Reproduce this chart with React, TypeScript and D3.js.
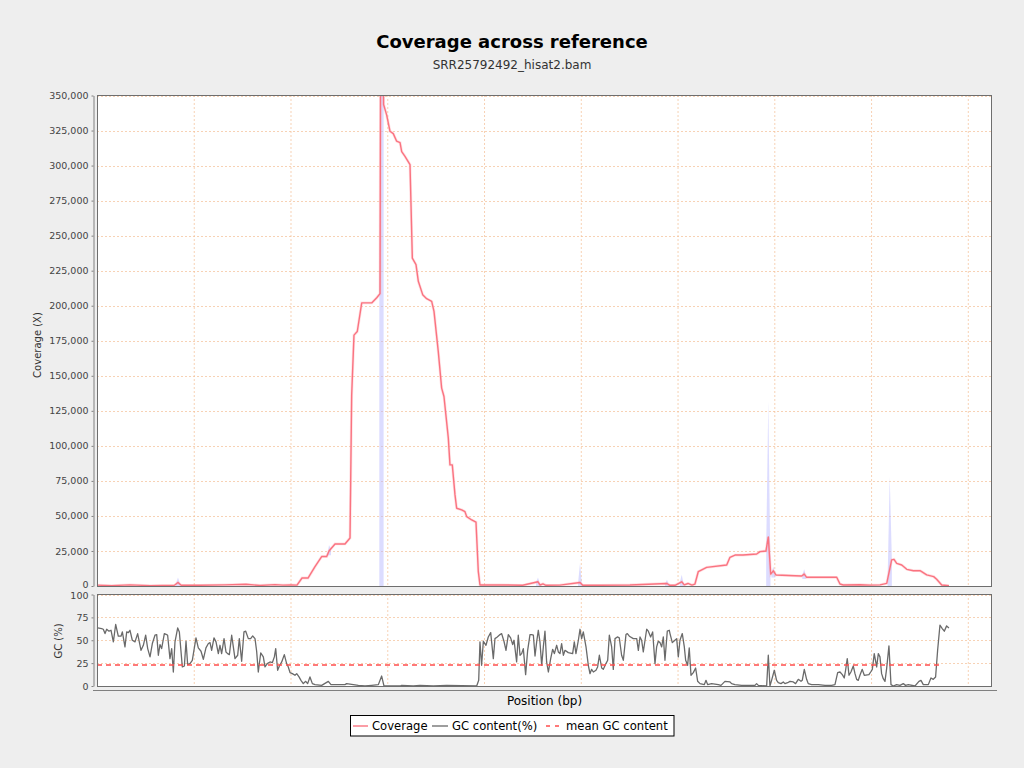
import React, { useEffect, useRef } from 'react';
import * as d3 from 'd3';

// coverage (bp position, depth)
const covPos = [0, 150, 340, 550, 800, 837, 870, 1065, 1323, 1540, 1685, 1840, 1922, 2005, 2067, 2119, 2181, 2201, 2253, 2322, 2374, 2398, 2460, 2563, 2615, 2632, 2656, 2690, 2736, 2839, 2891, 2925, 2932, 2955, 2962, 2994, 3028, 3062, 3097, 3132, 3149, 3183, 3235, 3259, 3297, 3321, 3366, 3407, 3459, 3483, 3527, 3562, 3586, 3631, 3648, 3672, 3700, 3717, 3769, 3803, 3821, 3873, 3917, 3941, 3958, 4165, 4400, 4558, 4580, 4609, 4640, 4785, 4992, 5020, 5199, 5508, 5891, 5920, 5974, 6043, 6070, 6108, 6149, 6180, 6214, 6301, 6508, 6542, 6594, 6676, 6818, 6852, 6914, 6938, 6963, 6990, 7017, 7283, 7309, 7335, 7645, 7679, 7713, 7886, 7990, 8093, 8162, 8213, 8237, 8265, 8317, 8369, 8437, 8506, 8523, 8575, 8647, 8678, 8730, 8805];
const covVal = [600, 300, 800, 300, 500, 2500, 500, 500, 800, 1200, 400, 1000, 600, 800, 600, 5700, 5700, 7900, 13800, 21000, 21000, 25000, 30000, 30000, 34300, 136000, 179000, 181600, 202000, 202000, 205700, 208600, 420000, 420000, 343600, 336000, 324500, 322800, 317400, 316400, 310000, 306600, 300700, 234000, 229300, 217400, 207900, 205000, 203100, 196000, 167400, 141200, 135200, 105500, 86400, 86400, 65000, 55500, 54300, 53000, 49500, 47100, 45500, 10200, 700, 800, 500, 3000, 700, 1500, 500, 600, 2500, 500, 500, 700, 1800, 500, 500, 3000, 800, 1800, 600, 1400, 10200, 13300, 15000, 20500, 22100, 22100, 22800, 24500, 25000, 35000, 8500, 10800, 7900, 7100, 8500, 6200, 6200, 1400, 700, 900, 600, 800, 1900, 18600, 19000, 16200, 15000, 11900, 10900, 10900, 10200, 7900, 6700, 4800, 700, 200];

// min/max spread spikes around the coverage line
const spikePos = [837, 2398, 2940, 4558, 4992, 5891, 6043, 6938, 6990, 7309, 8193];
const spikeLo = [0, 22000, 0, 0, 0, 0, 0, 0, 6000, 5000, 0];
const spikeHi = [6000, 29000, 420000, 6000, 16000, 4500, 8000, 132000, 14000, 12000, 78000];
const spikeHalf = [25, 20, 22, 20, 20, 20, 20, 22, 20, 20, 22];

// GC content (%)
const gcPos = [7, 48, 65, 83, 100, 124, 145, 169, 193, 220, 248, 262, 289, 307, 324, 341, 365, 393, 420, 455, 479, 503, 524, 548, 572, 599, 617, 634, 651, 668, 696, 720, 730, 754, 772, 789, 806, 834, 851, 882, 903, 920, 937, 961, 985, 1023, 1047, 1075, 1099, 1126, 1151, 1168, 1185, 1209, 1230, 1254, 1271, 1288, 1313, 1333, 1350, 1368, 1392, 1409, 1426, 1454, 1471, 1495, 1519, 1537, 1564, 1588, 1609, 1633, 1650, 1667, 1692, 1719, 1736, 1760, 1788, 1812, 1833, 1847, 1867, 1885, 1909, 1936, 1960, 1977, 1995, 2019, 2046, 2064, 2088, 2108, 2132, 2157, 2177, 2201, 2226, 2253, 2322, 2391, 2418, 2563, 2580, 2701, 2770, 2839, 2908, 2942, 2966, 3131, 3149, 3269, 3338, 3476, 3614, 3924, 3945, 3958, 3975, 3993, 4020, 4044, 4069, 4096, 4113, 4137, 4165, 4182, 4206, 4227, 4251, 4275, 4296, 4310, 4337, 4354, 4372, 4389, 4406, 4430, 4451, 4475, 4492, 4510, 4527, 4544, 4561, 4578, 4596, 4613, 4630, 4647, 4665, 4689, 4709, 4727, 4751, 4768, 4785, 4802, 4820, 4837, 4871, 4916, 4933, 4950, 4975, 4992, 5009, 5026, 5054, 5078, 5095, 5112, 5130, 5157, 5174, 5192, 5216, 5233, 5260, 5278, 5295, 5319, 5336, 5354, 5378, 5398, 5422, 5440, 5467, 5481, 5502, 5543, 5578, 5595, 5612, 5629, 5646, 5664, 5681, 5698, 5722, 5743, 5767, 5784, 5801, 5819, 5836, 5853, 5870, 5894, 5915, 5922, 5946, 5973, 5991, 6008, 6025, 6049, 6070, 6084, 6104, 6121, 6139, 6163, 6187, 6208, 6232, 6277, 6294, 6311, 6352, 6421, 6449, 6490, 6542, 6559, 6593, 6662, 6800, 6817, 6835, 6921, 6938, 6955, 6972, 7000, 7024, 7041, 7069, 7093, 7110, 7138, 7162, 7196, 7220, 7248, 7276, 7289, 7310, 7334, 7351, 7386, 7455, 7524, 7593, 7627, 7655, 7679, 7703, 7723, 7737, 7754, 7772, 7792, 7816, 7834, 7851, 7868, 7885, 7909, 7930, 7978, 7996, 8013, 8033, 8058, 8075, 8092, 8109, 8126, 8144, 8161, 8185, 8206, 8230, 8264, 8299, 8333, 8357, 8385, 8454, 8495, 8516, 8540, 8592, 8619, 8643, 8667, 8688, 8712, 8736, 8757, 8781, 8805];
const gcVal = [63.5, 62.8, 62.0, 57.3, 62.0, 59.9, 60.9, 48.2, 67.2, 54.4, 54.4, 59.1, 42.7, 59.1, 58.4, 60.9, 50, 48.2, 57.3, 39, 44.5, 55.5, 40.9, 31.8, 46.4, 55.5, 56.2, 33.6, 45.3, 40.9, 57.3, 56.2, 55.5, 29.9, 40.9, 15.3, 48.2, 63.5, 59.1, 20.8, 21.9, 48.9, 23.4, 24.5, 28.1, 52.6, 41.6, 38, 29.2, 41.6, 46.4, 47.4, 39, 52.6, 48.2, 35.4, 44.5, 35.4, 51.8, 37.2, 35.4, 34.3, 55.5, 42.7, 29.9, 33.6, 51.8, 27, 59.1, 59.9, 51.8, 51.8, 54.7, 51.8, 38, 15.3, 36.1, 31.8, 20.8, 24.5, 26.3, 25.5, 31.8, 40.9, 17.2, 21.9, 26.3, 34.3, 24.5, 20.8, 14.6, 13.5, 11.7, 13.5, 9.9, 6.2, 2.6, 5.1, 2.6, 9.9, 2.6, 1.5, 0.7, 5.1, 1.5, 1.5, 2.6, 0.7, 0, 0.7, 1.5, 10.9, 0, 0, 0.7, 0, 0.7, 0, 0.7, 0, 6.2, 48.2, 22.6, 48.9, 44.5, 53.6, 58.4, 29.9, 51.8, 53.6, 56.2, 57.3, 48.9, 39, 56.2, 52.6, 45.3, 50, 26.3, 55.5, 33.6, 35.4, 40.9, 12.4, 39, 56.2, 56.2, 55.5, 32.8, 48.2, 60.9, 48.2, 22.6, 42.7, 59.9, 26.3, 15.3, 29.9, 40.1, 35.4, 44.5, 37.2, 35.4, 46.4, 33.6, 39, 36.5, 35.4, 48.2, 35.4, 50, 62, 51.8, 59.1, 42.7, 22.6, 13.5, 18.2, 15.3, 17.2, 20.8, 33.6, 19.7, 18.2, 24.5, 28.1, 55.5, 42.7, 18.2, 51.8, 53.6, 52.6, 33.6, 28.1, 56.2, 57.3, 54.4, 51.8, 51.8, 39, 53.6, 50, 37.2, 50, 62, 59.9, 53.6, 59.1, 24.5, 42.7, 48.9, 47.4, 42.7, 53.6, 28.1, 59.9, 60.9, 57.3, 47.4, 50, 51.8, 31.8, 50, 57.3, 42.7, 28.1, 22.6, 41.6, 11.7, 14.6, 19.7, 5.1, 2.6, 1.5, 6.2, 1.5, 2.6, 1.5, 0.7, 5.1, 4.4, 2.6, 1.5, 0.7, 0.7, 2.6, 0.7, 0, 33.6, 0, 6.2, 17.2, 6.2, 3.6, 2.6, 4.4, 2.6, 3.6, 5.1, 4.4, 2.6, 7.3, 5.1, 6.2, 18.2, 7.3, 2.6, 1.5, 1.5, 0.7, 0.7, 1.5, 14.6, 15.3, 12.4, 8.8, 17.2, 29.9, 11.7, 15.3, 21.9, 13.5, 7.3, 6.2, 11.7, 18.2, 11.7, 12.4, 15.3, 18.2, 35.4, 20.8, 35.4, 31.8, 13.5, 8, 5.1, 19, 43.8, 1.5, 0, 1.5, 0.7, 2.6, 0.7, 1.5, 0, 5.1, 6.2, 1.5, 1.5, 8.8, 7.3, 9.9, 39, 66.4, 62.8, 59.9, 65.7, 63.5];

const meanGC = 23;
const meanGCEnd = 8720;

const covTicks = [0, 25000, 50000, 75000, 100000, 125000, 150000, 175000, 200000, 225000, 250000, 275000, 300000, 325000, 350000];
const gcTicks = [0, 25, 50, 75, 100];
const posGrid = [0, 1000, 2000, 3000, 4000, 5000, 6000, 7000, 8000, 9000];

const FONT = 'DejaVu Sans, Verdana, sans-serif';

const App: React.FC = () => {
  const svgRef = useRef<SVGSVGElement>(null);

  useEffect(() => {
    if (!svgRef.current) return;
    const svg = d3.select(svgRef.current);
    svg.selectAll('*').remove();

    const left = 97, right = 992, top = 95, covBottom = 586, gcTop = 594, gcBottom = 686;

    const x = d3.scaleLinear().domain([0, 9250]).range([left, right]);
    const yCov = d3.scaleLinear().domain([0, 350000]).range([covBottom, top + 0.5]);
    const yGC = d3.scaleLinear().domain([0, 100]).range([gcBottom, gcTop + 0.5]);

    svg.append('rect').attr('width', 1024).attr('height', 768).attr('fill', '#eeeeee');

    // Titles
    svg.append('text').attr('x', 512).attr('y', 48).attr('text-anchor', 'middle')
      .attr('font-family', FONT).attr('font-size', 18).attr('font-weight', 'bold').attr('fill', '#000')
      .text('Coverage across reference');
    svg.append('text').attr('x', 512).attr('y', 69).attr('text-anchor', 'middle')
      .attr('font-family', FONT).attr('font-size', 12).attr('fill', '#333')
      .text('SRR25792492_hisat2.bam');

    const defs = svg.append('defs');
    defs.append('clipPath').attr('id', 'covClip').append('rect')
      .attr('x', left).attr('y', top).attr('width', right - left).attr('height', covBottom - top);
    defs.append('clipPath').attr('id', 'gcClip').append('rect')
      .attr('x', left).attr('y', gcTop).attr('width', right - left).attr('height', gcBottom - gcTop);

    // Plot backgrounds
    [[top, covBottom], [gcTop, gcBottom]].forEach(([t, b]) => {
      svg.append('rect').attr('x', left).attr('y', t).attr('width', right - left).attr('height', b - t).attr('fill', '#fff');
    });

    const gridColor = '#f3bf95';
    // Vertical grid in both panels
    [[top, covBottom], [gcTop, gcBottom]].forEach(([t, b]) => {
      svg.append('g').selectAll('line').data(posGrid).enter().append('line')
        .attr('x1', d => x(d) + 0.5).attr('x2', d => x(d) + 0.5)
        .attr('y1', t).attr('y2', b)
        .attr('stroke', gridColor).attr('stroke-width', 0.7).attr('stroke-dasharray', '2,2');
    });
    svg.append('g').selectAll('line').data(covTicks).enter().append('line')
      .attr('x1', left).attr('x2', right)
      .attr('y1', d => Math.round(yCov(d)) + 0.5).attr('y2', d => Math.round(yCov(d)) + 0.5)
      .attr('stroke', gridColor).attr('stroke-width', 0.7).attr('stroke-dasharray', '2,2');
    svg.append('g').selectAll('line').data(gcTicks).enter().append('line')
      .attr('x1', left).attr('x2', right)
      .attr('y1', d => Math.round(yGC(d)) + 0.5).attr('y2', d => Math.round(yGC(d)) + 0.5)
      .attr('stroke', gridColor).attr('stroke-width', 0.7).attr('stroke-dasharray', '2,2');

    // Coverage spread spikes
    const covAt = (p: number) => {
      const i = d3.bisectLeft(covPos, p);
      if (i <= 0) return covVal[0];
      if (i >= covPos.length) return covVal[covVal.length - 1];
      const t = (p - covPos[i - 1]) / (covPos[i] - covPos[i - 1]);
      return covVal[i - 1] + t * (covVal[i] - covVal[i - 1]);
    };
    const spikeArea = d3.area<[number, number, number]>()
      .x(d => x(d[0])).y0(d => yCov(d[1])).y1(d => yCov(d[2]));
    const gCov = svg.append('g').attr('clip-path', 'url(#covClip)');
    spikePos.forEach((p, i) => {
      const a = p - spikeHalf[i], b = p + spikeHalf[i];
      const lo = spikeLo[i], hi = spikeHi[i];
      const pts: [number, number, number][] = [
        [a, Math.min(lo, covAt(a)), covAt(a)],
        [p, lo, hi],
        [b, Math.min(lo, covAt(b)), covAt(b)],
      ];
      gCov.append('path').attr('d', spikeArea(pts)!).attr('fill', '#b9b9ff').attr('fill-opacity', 0.5);
    });

    const covLine = d3.line<number>().x((_, i) => x(covPos[i])).y(d => yCov(d));
    gCov.append('path').attr('d', covLine(covVal)!).attr('fill', 'none')
      .attr('stroke', '#ffa6ae').attr('stroke-width', 2.8).attr('stroke-opacity', 0.35);
    gCov.append('path').attr('d', covLine(covVal)!).attr('fill', 'none')
      .attr('stroke', '#fa7380').attr('stroke-width', 1.4).attr('stroke-linejoin', 'round');

    // GC panel
    const gGC = svg.append('g').attr('clip-path', 'url(#gcClip)');
    const gcLine = d3.line<number>().x((_, i) => x(gcPos[i])).y(d => yGC(d));
    gGC.append('path').attr('d', gcLine(gcVal)!).attr('fill', 'none')
      .attr('stroke', '#6a6a6a').attr('stroke-width', 1.3).attr('stroke-linejoin', 'round');
    gGC.append('line')
      .attr('x1', x(0)).attr('x2', x(meanGCEnd))
      .attr('y1', yGC(meanGC)).attr('y2', yGC(meanGC))
      .attr('stroke', '#ff4d4d').attr('stroke-width', 1.4).attr('stroke-dasharray', '5,4');

    // Plot borders
    [[top, covBottom], [gcTop, gcBottom]].forEach(([t, b]) => {
      svg.append('rect').attr('x', left + 0.5).attr('y', t + 0.5).attr('width', right - left - 1).attr('height', b - t)
        .attr('fill', 'none').attr('stroke', '#6e6e6e').attr('stroke-width', 1);
    });

    // Axes
    const styleAxis = (g: d3.Selection<SVGGElement, unknown, null, undefined>) => {
      g.selectAll('.domain').attr('stroke', '#808080');
      g.selectAll('.tick line').attr('stroke', '#808080');
      g.selectAll('.tick text').attr('fill', '#444').attr('font-family', FONT).attr('font-size', 9.5);
    };
    const axCov = svg.append('g').attr('transform', 'translate(93.5,0)')
      .call(d3.axisLeft(yCov).tickValues(covTicks).tickFormat(d3.format(',') as any).tickSize(2).tickSizeOuter(0).tickPadding(3));
    styleAxis(axCov as any);
    // keep the bottom "0" clear of the GC panel's "100"
    axCov.selectAll('.tick text').filter((d: any) => d === 0).attr('dy', '0.2em');
    const axGC = svg.append('g').attr('transform', 'translate(93.5,0)')
      .call(d3.axisLeft(yGC).tickValues(gcTicks).tickSize(2).tickSizeOuter(0).tickPadding(3));
    styleAxis(axGC as any);
    axGC.selectAll('.tick text').filter((d: any) => d === 100).attr('dy', '0.42em');

    svg.append('line').attr('x1', 93).attr('x2', 997).attr('y1', 690.5).attr('y2', 690.5)
      .attr('stroke', '#808080');

    // Axis labels
    svg.append('text').attr('transform', 'translate(41,345) rotate(-90)').attr('text-anchor', 'middle')
      .attr('font-family', FONT).attr('font-size', 10).attr('fill', '#333').text('Coverage (X)');
    svg.append('text').attr('transform', 'translate(62,641) rotate(-90)').attr('text-anchor', 'middle')
      .attr('font-family', FONT).attr('font-size', 10).attr('fill', '#333').text('GC (%)');
    svg.append('text').attr('x', (left + right) / 2).attr('y', 705).attr('text-anchor', 'middle')
      .attr('font-family', FONT).attr('font-size', 12).attr('fill', '#000').text('Position (bp)');

    // Legend
    const lg = svg.append('g').attr('font-family', FONT).attr('font-size', 11.6);
    lg.append('rect').attr('x', 350.5).attr('y', 715.5).attr('width', 323.5).attr('height', 20.5)
      .attr('fill', '#fff').attr('stroke', '#000').attr('stroke-width', 1);
    const ly = 726;
    lg.append('line').attr('x1', 353).attr('x2', 368).attr('y1', ly).attr('y2', ly).attr('stroke', '#fa7380').attr('stroke-width', 1.4);
    lg.append('text').attr('x', 372).attr('y', ly + 4.3).text('Coverage');
    lg.append('line').attr('x1', 432).attr('x2', 448).attr('y1', ly).attr('y2', ly).attr('stroke', '#6a6a6a').attr('stroke-width', 1.3);
    lg.append('text').attr('x', 452).attr('y', ly + 4.3).text('GC content(%)');
    lg.append('line').attr('x1', 546).attr('x2', 562).attr('y1', ly).attr('y2', ly).attr('stroke', '#ff4d4d').attr('stroke-width', 1.4).attr('stroke-dasharray', '4,5');
    lg.append('text').attr('x', 566).attr('y', ly + 4.3).text('mean GC content');
  }, []);

  return (
    <svg ref={svgRef} width={1024} height={768} style={{ position: 'absolute', left: 0, top: 0 }} />
  );
};

export default App;
